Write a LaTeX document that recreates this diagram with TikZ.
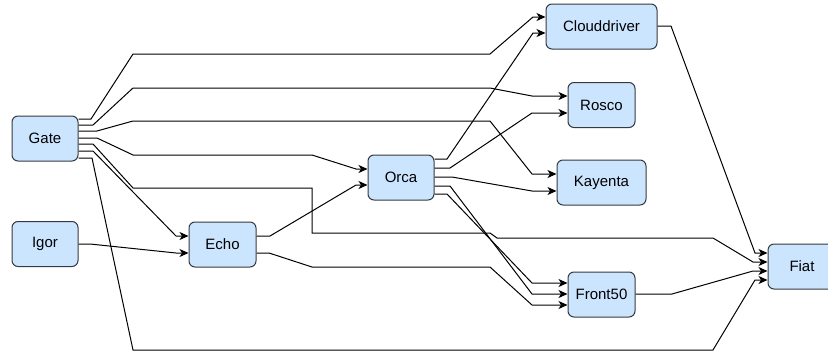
\documentclass[tikz,border=0pt]{standalone}
\usepackage{fontspec}
\setmainfont{Liberation Sans}
\usetikzlibrary{arrows.meta}
\definecolor{boxfill}{HTML}{CCE5FF}
\definecolor{boxdraw}{HTML}{36393D}
\begin{document}
\begin{tikzpicture}[x=1pt,y=-1pt,
  box/.style={draw=boxdraw, fill=boxfill, rounded corners=6pt, line width=1pt,
    minimum height=45pt, inner sep=0pt, font=\fontsize{15}{18}\selectfont},
  link/.style={draw=black, line width=1pt, line join=miter,
    -{Stealth[length=9pt,width=8pt,inset=2.5pt]}}]
\useasboundingbox (0,0) rectangle (828,354);
% nodes
\node[box, minimum width=66pt] (Gate) at (45,138.5) {Gate};
\node[box, minimum width=66pt] (Igor) at (45,244) {Igor};
\node[box, minimum width=67pt] (Echo) at (222.5,244.5) {Echo};
\node[box, minimum width=66pt] (Orca) at (401,177.5) {Orca};
\node[box, minimum width=111pt] (Clouddriver) at (601.5,26.5) {Clouddriver};
\node[box, minimum width=67pt] (Rosco) at (601.5,105) {Rosco};
\node[box, minimum width=89pt] (Kayenta) at (601.5,182.5) {Kayenta};
\node[box, minimum width=67pt] (Front50) at (601.5,294.5) {Front50};
\node[box, minimum width=68pt] (Fiat) at (802,266.5) {Fiat};
% connectors from Gate
\draw[link] (Gate.east |- 0,119) -- (91,119) -- (133,54) -- (490,54) -- (533,17) -- (Clouddriver.west |- 0,17);
\draw[link] (Gate.east |- 0,125) -- (93,125) -- (133,88) -- (490,88) -- (532,96) -- (Rosco.west |- 0,96);
\draw[link] (Gate.east |- 0,131) -- (97,131) -- (133,121) -- (490,121) -- (532,174) -- (Kayenta.west |- 0,174);
\draw[link] (Gate.east |- 0,138) -- (97,138) -- (133,155) -- (312,155) -- (356,169) -- (Orca.west |- 0,169);
\draw[link] (Gate.east |- 0,144) -- (93,144) -- (133,188) -- (312,188) -- (312,233) -- (490,233) -- (497,238) -- (713,238) -- (753,262) -- (Fiat.west |- 0,262);
\draw[link] (Gate.east |- 0,151) -- (93,151) -- (176,236) -- (Echo.west |- 0,236);
\draw[link] (Gate.east |- 0,158) -- (92,158) -- (133,350) -- (713,350) -- (755,280) -- (Fiat.west |- 0,280);
% Igor
\draw[link] (Igor.east |- 0,244) -- (90,244) -- (176,253) -- (Echo.west |- 0,253);
% Echo
\draw[link] (Echo.east |- 0,236) -- (270,236) -- (356,185) -- (Orca.west |- 0,185);
\draw[link] (Echo.east |- 0,253) -- (269,253) -- (312,267) -- (490,267) -- (532,305) -- (Front50.west |- 0,305);
% Orca
\draw[link] (Orca.east |- 0,159) -- (447,159) -- (533,33) -- (Clouddriver.west |- 0,33);
\draw[link] (Orca.east |- 0,168) -- (450,168) -- (532,113) -- (Rosco.west |- 0,113);
\draw[link] (Orca.east |- 0,177) -- (452,177) -- (532,191) -- (Kayenta.west |- 0,191);
\draw[link] (Orca.east |- 0,186) -- (450,186) -- (532,294) -- (Front50.west |- 0,294);
\draw[link] (Orca.east |- 0,194) -- (447,194) -- (532,283) -- (Front50.west |- 0,283);
% to Fiat
\draw[link] (Clouddriver.east |- 0,26) -- (671,26) -- (755,253) -- (Fiat.west |- 0,253);
\draw[link] (Front50.east |- 0,294) -- (672,294) -- (753,271) -- (Fiat.west |- 0,271);
\end{tikzpicture}
\end{document}
